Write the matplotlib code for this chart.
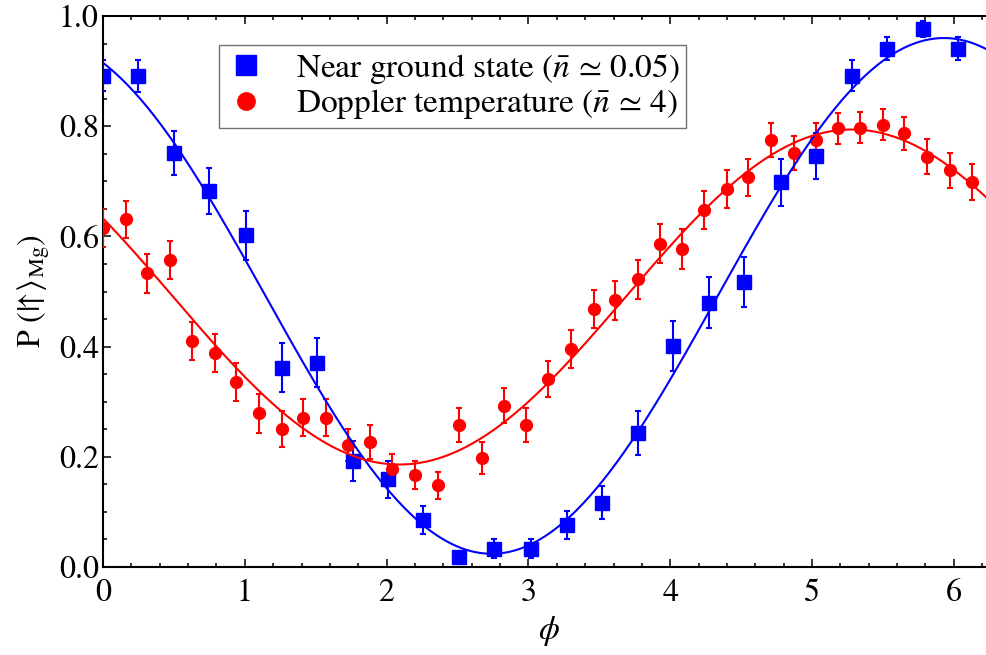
import numpy as np
import matplotlib
matplotlib.use("Agg")
import matplotlib.pyplot as plt
from matplotlib.ticker import MultipleLocator
from matplotlib.lines import Line2D

plt.rcParams["font.family"] = ["STIXGeneral", "Liberation Serif", "DejaVu Serif"]
plt.rcParams["mathtext.fontset"] = "stix"

# Near ground state (n ~ 0.05)
phi_ground = [0.00, 0.25, 0.50, 0.75, 1.01, 1.26, 1.51, 1.76, 2.01, 2.26, 2.51, 2.76, 3.02,
              3.27, 3.52, 3.77, 4.02, 4.27, 4.52, 4.78, 5.03, 5.28, 5.53, 5.78, 6.03]
p_ground = [0.892, 0.891, 0.751, 0.683, 0.602, 0.362, 0.371, 0.192, 0.159, 0.085, 0.018, 0.033, 0.033,
            0.076, 0.117, 0.243, 0.401, 0.480, 0.517, 0.698, 0.746, 0.892, 0.941, 0.976, 0.941]
err_ground = [0.029, 0.029, 0.040, 0.042, 0.045, 0.044, 0.044, 0.036, 0.034, 0.026, 0.010, 0.017, 0.017,
              0.025, 0.030, 0.040, 0.045, 0.046, 0.046, 0.042, 0.041, 0.029, 0.020, 0.015, 0.020]

# Doppler temperature (n ~ 4)
phi_doppler = [0.00, 0.16, 0.31, 0.47, 0.63, 0.79, 0.94, 1.10, 1.26, 1.41, 1.57, 1.73, 1.88, 2.04,
               2.20, 2.36, 2.51, 2.67, 2.83, 2.98, 3.14, 3.30, 3.46, 3.61, 3.77, 3.93, 4.08, 4.24,
               4.40, 4.55, 4.71, 4.87, 5.03, 5.18, 5.34, 5.50, 5.65, 5.81, 5.97, 6.13]
p_doppler = [0.615, 0.631, 0.533, 0.557, 0.410, 0.388, 0.336, 0.279, 0.250, 0.271, 0.271, 0.221, 0.227, 0.178,
             0.167, 0.148, 0.258, 0.197, 0.293, 0.258, 0.341, 0.396, 0.468, 0.484, 0.522, 0.587, 0.577, 0.648,
             0.686, 0.707, 0.775, 0.751, 0.775, 0.796, 0.797, 0.803, 0.787, 0.745, 0.720, 0.699]
err_doppler = [0.035, 0.034, 0.035, 0.035, 0.035, 0.035, 0.034, 0.035, 0.033, 0.033, 0.033, 0.029, 0.031, 0.027,
               0.026, 0.025, 0.031, 0.029, 0.031, 0.031, 0.033, 0.035, 0.035, 0.035, 0.035, 0.036, 0.036, 0.034,
               0.034, 0.033, 0.030, 0.031, 0.030, 0.028, 0.028, 0.028, 0.030, 0.031, 0.032, 0.033]

# Sinusoidal fit parameters: offset, amplitude, frequency, phase of maximum
fit_ground = dict(offset=0.492, amp=0.468, freq=0.985, peak=5.93)
fit_doppler = dict(offset=0.490, amp=0.304, freq=0.985, peak=5.28)

x_ticks = [0, 1, 2, 3, 4, 5, 6]
y_ticks = [0.0, 0.2, 0.4, 0.6, 0.8, 1.0]

label_ground = r"Near ground state ($\bar{n}\,\simeq\,0.05$)"
label_doppler = r"Doppler temperature ($\bar{n}\,\simeq\,4$)"


def fit_curve(x, offset, amp, freq, peak):
    return offset + amp * np.cos(freq * (x - peak))


fig = plt.figure(figsize=(9.87, 6.55), dpi=100)
ax = fig.add_axes([103 / 987, 88 / 655, 891 / 987, 551 / 655])

blue = (0, 0, 1)
red = (1, 0, 0)

ax.errorbar(phi_ground, p_ground, yerr=err_ground, fmt="s", color=blue, ms=9.5,
            elinewidth=1.5, capsize=2.4, capthick=1.5, zorder=3)
ax.errorbar(phi_doppler, p_doppler, yerr=err_doppler, fmt="o", color=red, ms=8.5,
            elinewidth=1.5, capsize=2.4, capthick=1.5, zorder=3)

xs = np.linspace(0, 2 * np.pi, 400)
ax.plot(xs, fit_curve(xs, **fit_ground), color=blue, lw=1.5, zorder=4)
ax.plot(xs, fit_curve(xs, **fit_doppler), color=red, lw=1.5, zorder=4)

ax.set_xlim(0, 2 * np.pi)
ax.set_ylim(0, 1.0)
ax.set_xticks(x_ticks)
ax.set_yticks(y_ticks)
ax.set_xticklabels([str(t) for t in x_ticks])
ax.set_yticklabels([f"{t:.1f}" for t in y_ticks])
ax.xaxis.set_minor_locator(MultipleLocator(0.2))
ax.yaxis.set_minor_locator(MultipleLocator(0.05))
ax.tick_params(which="both", direction="in", top=True, right=True, labelsize=23, width=1.1)
ax.tick_params(which="major", length=5.5)
ax.tick_params(which="minor", length=3)
ax.tick_params(axis="x", pad=8)
ax.tick_params(axis="y", pad=3)
for s in ax.spines.values():
    s.set_linewidth(1.5)

ax.set_xlabel(r"$\phi$", fontsize=24, labelpad=5)
ax.set_ylabel(r"P $(|\!\!\uparrow\!\rangle_{\mathrm{Mg}})$", fontsize=23, labelpad=5)

handles = [
    Line2D([], [], ls="none", marker="s", color=blue, ms=14),
    Line2D([], [], ls="none", marker="o", color=red, ms=12.5),
]
leg = ax.legend(handles, [label_ground, label_doppler], loc="upper left",
                bbox_to_anchor=(116 / 891, 1 - 29 / 551), borderaxespad=0,
                fontsize=24, frameon=True, fancybox=False, edgecolor="0.3",
                handletextpad=0.9, borderpad=0.2, labelspacing=0.05, handlelength=1.2)
leg.get_frame().set_linewidth(1.0)

fig.savefig("out.png", dpi=100)
